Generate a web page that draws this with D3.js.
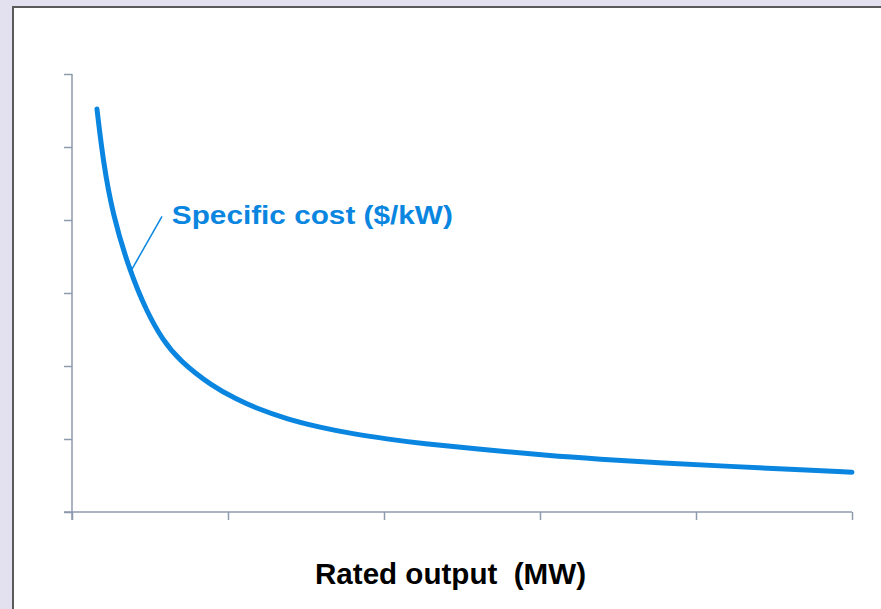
<!DOCTYPE html>
<html>
<head>
<meta charset="utf-8">
<script src="https://cdn.jsdelivr.net/npm/d3@7"></script>
<style>
  body { margin: 0; background: #e3e0f0; }
  svg { display: block; }
</style>
</head>
<body>
<svg id="drawing_region"></svg>
<script>
// values (x in axis units 0..5, y in axis units 0..6)
const outputs = [0.16, 0.2, 0.26, 0.37, 0.48, 0.58, 0.69, 0.9, 1.06, 1.16, 1.38, 1.59, 1.8, 2.02, 2.23, 2.66, 3.06, 3.37, 3.79, 4.22, 4.65, 5.0];
const costs   = [5.52, 4.8, 4.08, 3.3, 2.74, 2.36, 2.07, 1.72, 1.54, 1.44, 1.27, 1.16, 1.07, 1.0, 0.94, 0.85, 0.77, 0.725, 0.67, 0.625, 0.58, 0.545];
const xTicks = [0, 1, 2, 3, 4, 5];
const yTicks = [0, 1, 2, 3, 4, 5, 6];

const width = 881, height = 609;
const margin = {top: 74, right: 29, bottom: 97, left: 72};

const svg = d3.select('#drawing_region')
    .attr('width', width)
    .attr('height', height);

// white panel with dark frame
svg.append('rect')
    .attr('x', 13).attr('y', 7)
    .attr('width', width).attr('height', height)
    .attr('fill', '#fff')
    .attr('stroke', '#5a5a5a')
    .attr('stroke-width', 2);

const xscale = d3.scaleLinear().domain([0, 5]).range([margin.left, width - margin.right]);
const yscale = d3.scaleLinear().domain([0, 6]).range([height - margin.bottom, margin.top]);

const axisColor = '#8d9bab';

const xaxis = d3.axisBottom(xscale).tickValues(xTicks).tickSize(8).tickSizeOuter(0).tickFormat('');
const yaxis = d3.axisLeft(yscale).tickValues(yTicks).tickSize(8).tickSizeOuter(0).tickFormat('');

const xg = svg.append('g')
    .attr('transform', `translate(0, ${yscale(0)})`)
    .call(xaxis);
const yg = svg.append('g')
    .attr('transform', `translate(${xscale(0)}, 0)`)
    .call(yaxis);

[xg, yg].forEach(g => {
    g.select('.domain').remove();
    g.selectAll('line').attr('stroke', axisColor).attr('stroke-width', 1.5);
});

// axis lines reach past the origin like in the picture
svg.append('line')
    .attr('x1', xscale(0) - 8).attr('x2', xscale(5))
    .attr('y1', yscale(0)).attr('y2', yscale(0))
    .attr('stroke', axisColor).attr('stroke-width', 1.5);
svg.append('line')
    .attr('x1', xscale(0)).attr('x2', xscale(0))
    .attr('y1', yscale(6)).attr('y2', yscale(0) + 8)
    .attr('stroke', axisColor).attr('stroke-width', 1.5);

const data = outputs.map((d, i) => ({x: d, y: costs[i]}));

const line = d3.line()
    .x(d => xscale(d.x))
    .y(d => yscale(d.y))
    .curve(d3.curveBasis);

const blue = '#0a86e0';

svg.append('path')
    .datum(data)
    .attr('d', line)
    .attr('fill', 'none')
    .attr('stroke', blue)
    .attr('stroke-width', 5)
    .attr('stroke-linecap', 'round');

// annotation
svg.append('line')
    .attr('x1', xscale(0.372)).attr('y1', yscale(3.28))
    .attr('x2', xscale(0.577)).attr('y2', yscale(4.05))
    .attr('stroke', blue)
    .attr('stroke-width', 1.5);

svg.append('text')
    .attr('x', xscale(0.64))
    .attr('y', yscale(3.95))
    .attr('fill', blue)
    .attr('font-family', 'Liberation Sans, Arial, sans-serif')
    .attr('font-size', '26px')
    .attr('font-weight', 'bold')
    .attr('textLength', 281)
    .attr('lengthAdjust', 'spacingAndGlyphs')
    .text('Specific cost ($/kW)');

svg.append('text')
    .attr('x', 315)
    .attr('y', 584)
    .attr('fill', '#000')
    .attr('font-family', 'Liberation Sans, Arial, sans-serif')
    .attr('font-size', '29px')
    .attr('font-weight', 'bold')
    .attr('textLength', 271)
    .attr('lengthAdjust', 'spacingAndGlyphs')
    .style('white-space', 'pre')
    .text('Rated output  (MW)');
</script>
</body>
</html>
